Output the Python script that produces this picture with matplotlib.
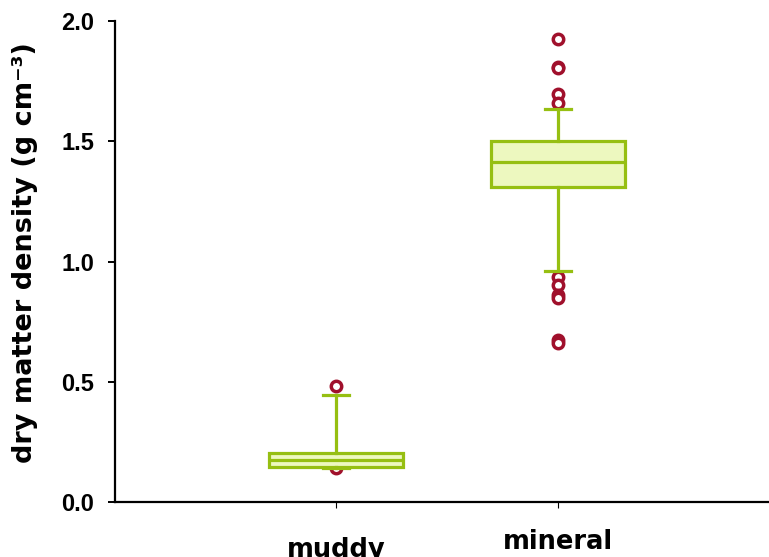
"""
Box plot of dry matter density for muddy and mineral sediment samples
"""

import matplotlib
import matplotlib.pyplot as plt
from matplotlib.transforms import ScaledTranslation

matplotlib.use("Agg")

# values (g cm-3)
categories = ["muddy", "mineral"]
medians = [0.175, 1.412]
q1s = [0.146, 1.311]
q3s = [0.204, 1.502]
whis_low = [0.141, 0.960]
whis_high = [0.445, 1.633]
fliers_muddy = [0.482, 0.140]
fliers_mineral = [1.924, 1.810, 1.804, 1.696, 1.658,
                  0.934, 0.902, 0.861, 0.847, 0.674, 0.661]
y_ticks = [0.0, 0.5, 1.0, 1.5, 2.0]
y_tick_labels = ["0.0", "0.5", "1.0", "1.5", "2.0"]
# extra downward shift of each x label (points), as in the reference
label_drop = [6.0, 0.0]

GREEN = "#96BF12"
FILL = "#EDF8BF"
RED = "#A0102C"


def build_stats() -> list:
    """
    Builds the precomputed statistics for bxp
    """
    all_fliers = [fliers_muddy, fliers_mineral]
    stats = []
    for i, name in enumerate(categories):
        stats.append({
            "label": name,
            "med": medians[i],
            "q1": q1s[i],
            "q3": q3s[i],
            "whislo": whis_low[i],
            "whishi": whis_high[i],
            "fliers": all_fliers[i],
        })
    return stats


def main():
    fig = plt.figure(figsize=(7.69, 5.57), dpi=100)
    ax = fig.add_axes([0.1495, 0.0987, 0.8505, 0.8636])

    line_style = {"color": GREEN, "linewidth": 2.3}
    parts = ax.bxp(
        build_stats(),
        positions=[1, 2],
        widths=0.60,
        capwidths=0.12,
        patch_artist=True,
        boxprops={"facecolor": FILL, "edgecolor": GREEN, "linewidth": 2.3},
        medianprops=line_style,
        whiskerprops=line_style,
        capprops=line_style,
        flierprops={
            "marker": "o",
            "markerfacecolor": "white",
            "markeredgecolor": RED,
            "markeredgewidth": 2.5,
            "markersize": 7.5,
            "linestyle": "none",
        },
        zorder=3,
    )
    # outliers sit behind the boxes, as in the reference
    for flier in parts["fliers"]:
        flier.set_zorder(2)

    ax.set_xlim(0.005, 2.95)
    ax.set_ylim(0, 2.0)

    for side in ["top", "right"]:
        ax.spines[side].set_visible(False)
    ax.spines["left"].set_linewidth(1.6)
    ax.spines["bottom"].set_linewidth(1.6)

    ax.set_yticks(y_ticks)
    ax.set_yticklabels(y_tick_labels, fontfamily="Liberation Sans",
                       fontweight="bold", fontsize=17)
    ax.tick_params(axis="y", length=5, width=1.4, pad=10)

    ax.set_xticks([1, 2])
    ax.set_xticklabels(categories, fontfamily="DejaVu Sans",
                       fontweight="bold", fontsize=18.5)
    ax.tick_params(axis="x", length=4.5, width=0.8, pad=15)
    for lab, drop in zip(ax.get_xticklabels(), label_drop):
        lab.set_transform(lab.get_transform()
                          + ScaledTranslation(0, -drop / 72,
                                              fig.dpi_scale_trans))

    ax.set_ylabel("dry matter density (g cm⁻³)", fontfamily="DejaVu Sans",
                  fontweight="bold", fontsize=19.5)
    ax.yaxis.set_label_coords(-0.118, 0.519)

    fig.savefig("out.png", dpi=100)


if __name__ == "__main__":
    main()
